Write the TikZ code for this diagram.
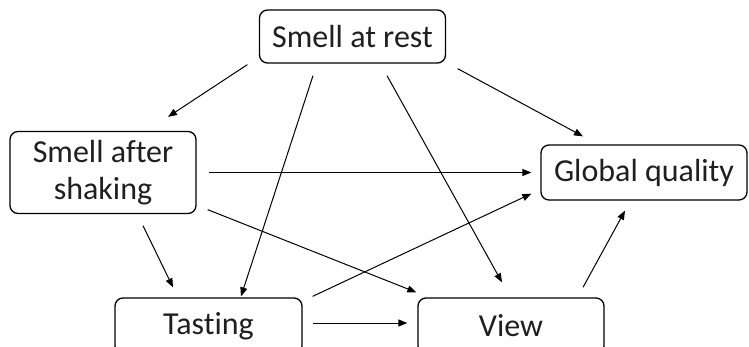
\documentclass[tikz,border=0pt]{standalone}
\usepackage{fontspec}
\setmainfont[Ligatures={NoCommon}]{Carlito}
\usetikzlibrary{arrows.meta,calc}
\begin{document}
\begin{tikzpicture}[x=1pt,y=-1pt,
  box/.style={draw=black,line width=1.3pt,rounded corners=8pt,inner sep=0pt,
    align=center,font=\fontsize{32}{37}\selectfont,text=black!88},
  conn/.style={line width=1pt,-{Triangle[length=9pt,width=7pt]}}]
\useasboundingbox (0,0) rectangle (749,347);
\clip (0,0) rectangle (749,347);
\node[box,minimum width=186pt,minimum height=53pt] (rest) at (352.5,36.5) {Smell at rest};
\node[box,minimum width=186pt,minimum height=82pt] (shaking) at (103,172.5) {Smell after\\shaking};
\node[box,minimum width=206pt,minimum height=55pt] (global) at (644,172.5) {Global quality};
\node[box,minimum width=187pt,minimum height=56pt] (tasting) at (208.5,326) {Tasting};
\node[box,minimum width=186pt,minimum height=56pt] (view) at (511,326) {View};
\draw[conn] ($(rest.south west)+(-11.5,1)$) -- ($(shaking.north)+(65,-14)$);
\draw[conn] ($(rest.south)+(-39.5,12)$) -- ($(tasting.north)+(32.5,-1)$);
\draw[conn] ($(rest.south)+(34.5,12)$) -- ($(view.north)+(-9,-15)$);
\draw[conn] ($(rest.south east)+(11.5,5)$) -- ($(global.north)+(-61,-8)$);
\draw[conn] ($(shaking.east)+(12,0)$) -- ($(global.west)+(-9,0)$);
\draw[conn] ($(shaking.south east)+(11,-4.5)$) -- ($(view.north west)+(-1,-5)$);
\draw[conn] ($(shaking.south)+(40,11.5)$) -- ($(tasting.north)+(-35.5,-10)$);
\draw[conn] ($(tasting.north east)+(10,-1)$) -- ($(global.south west)+(-9,-7)$);
\draw[conn] ($(tasting.east)+(10,-3)$) -- ($(view.west)+(-10,-3)$);
\draw[conn] ($(view.north)+(72,-10)$) -- ($(global.south)+(-19,10)$);
\end{tikzpicture}
\end{document}
